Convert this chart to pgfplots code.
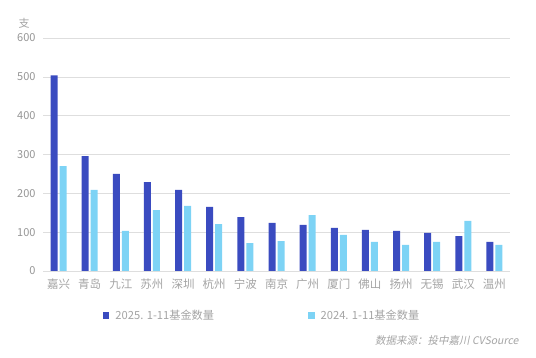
\documentclass[border=0pt]{standalone}
\usepackage{pgfplots}
\pgfplotsset{compat=1.18}
\usepackage{fontspec}
\setmainfont{Noto Sans CJK SC}
\newfontfamily\srcfont[FakeSlant=0.2]{Noto Sans CJK SC}
\definecolor{dark}{HTML}{3A4BC0}
\definecolor{light}{HTML}{7DD3F5}
\definecolor{gridc}{HTML}{DEDEDE}
\definecolor{txt}{HTML}{959595}
\begin{document}
\begin{tikzpicture}[x=1pt,y=1pt]
\useasboundingbox (0,0) rectangle (536,358);
\begin{axis}[
  at={(43pt,87pt)}, anchor=south west,
  scale only axis, width=467pt, height=233pt,
  ybar=2pt, bar width=7pt,
  xmin=-0.5, xmax=14.5, ymin=0, ymax=600,
  ytick={0,100,...,600},
  xtick={0,...,14},
  xticklabels={嘉兴,青岛,九江,苏州,深圳,杭州,宁波,南京,广州,厦门,佛山,扬州,无锡,武汉,温州},
  axis x line*=bottom, axis y line*=left,
  x axis line style={draw=gridc},
  y axis line style={draw=none},
  major tick length=0pt,
  ymajorgrids, grid style={draw=gridc, line width=0.6pt},
  /pgf/number format/assume math mode=true,
  yticklabel style={font=\fontsize{11}{12}\selectfont, text=txt, xshift=-4pt},
  xticklabel style={font=\fontsize{11.5}{12}\selectfont, text=txt!110!black, yshift=-4.5pt},
  legend columns=2,
  legend style={draw=none, fill=none, inner sep=0pt, at={(0.128,-0.193)}, anchor=west,
    font=\fontsize{11.2}{12}\selectfont, text=txt!110!black,
    /tikz/every odd column/.append style={column sep=4pt},
    /tikz/every even column/.append style={column sep=92pt}},
  legend image code/.code={\fill[#1] (0pt,-3pt) rectangle (6.5pt,3.5pt);},
  clip=false,
]
\addplot[fill=dark, draw=none] coordinates {(0,504) (1,296) (2,250) (3,229) (4,209) (5,165) (6,139) (7,124) (8,119) (9,111) (10,106) (11,103) (12,98) (13,90) (14,75)};
\addplot[fill=light, draw=none] coordinates {(0,270) (1,209) (2,103) (3,157) (4,168) (5,121) (6,72) (7,77) (8,144) (9,93) (10,75) (11,67) (12,75) (13,129) (14,67)};
\legend{2025. 1-11基金数量, 2024. 1-11基金数量}
\end{axis}
\node[text=txt!110!black, font=\fontsize{11}{12}\selectfont] at (24,335) {支};
\node[anchor=east, text=txt!110!black, font=\fontsize{10.5}{12}\selectfont\srcfont] at (522,17) {数据来源：投中嘉川 CVSource};
\end{tikzpicture}
\end{document}
